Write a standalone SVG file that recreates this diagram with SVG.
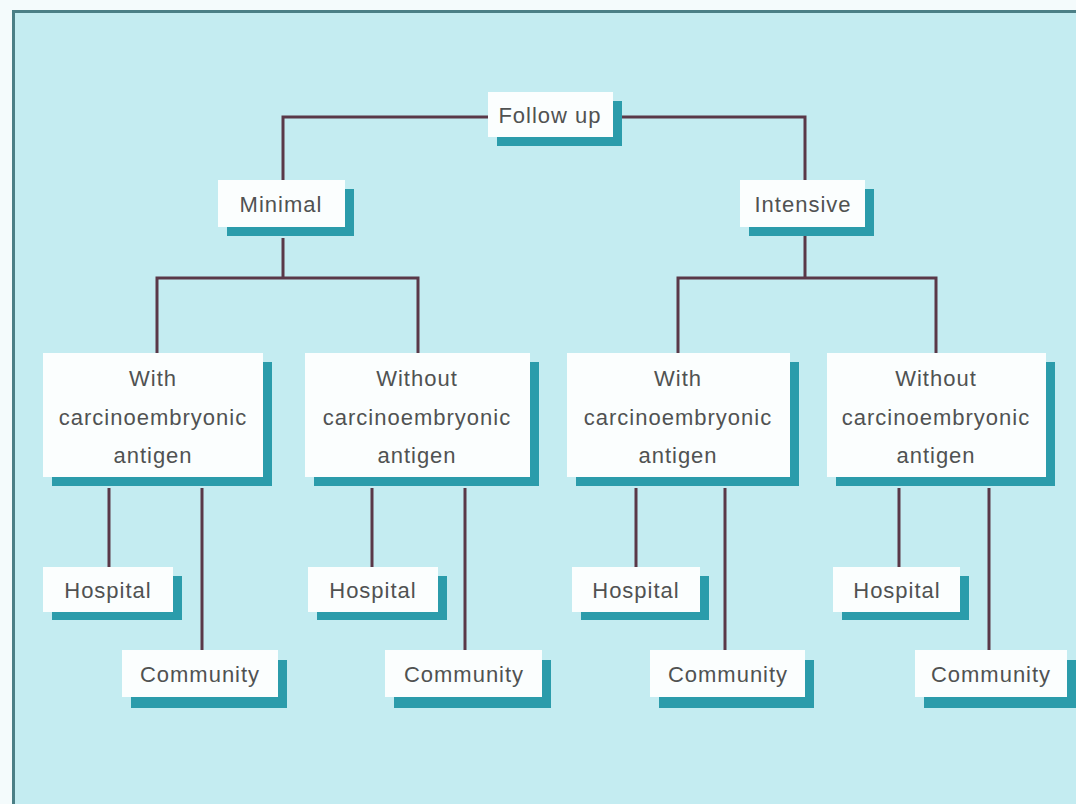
<svg xmlns="http://www.w3.org/2000/svg" width="1076" height="804" viewBox="0 0 1076 804">
<style>
.sh{fill:#2b9cab}
.bx{fill:#fbfefe}
.t{font-family:"Liberation Sans",Arial,sans-serif;font-size:22px;fill:#505252;text-anchor:middle;letter-spacing:1px}
.c{fill:none;stroke:#5a3848;stroke-width:3}
</style>
<rect x="0" y="0" width="1076" height="804" fill="#f4fbfc"/>
<rect x="12" y="10" width="1064" height="794" fill="#c4ecf1"/>
<line x1="12" y1="11.5" x2="1076" y2="11.5" stroke="#4b7f86" stroke-width="3"/>
<line x1="13.5" y1="10" x2="13.5" y2="804" stroke="#4b7f86" stroke-width="3"/>
<g id="connectors">
<path class="c" d="M488 117 H283 V180"/>
<path class="c" d="M613 117 H805 V180"/>
<path class="c" d="M283 238 V278 M157 353 V278 H418 V353"/>
<path class="c" d="M805 236 V278 M678 353 V278 H936 V353"/>
<path class="c" d="M109 488 V567 M202 488 V650"/>
<path class="c" d="M372 488 V567 M465 488 V650"/>
<path class="c" d="M636 488 V567 M725 488 V650"/>
<path class="c" d="M899 488 V567 M989 488 V650"/>
</g>
<g id="followup"><rect class="sh" x="497" y="101" width="125" height="45"/><rect class="bx" x="488" y="92" width="125" height="45"/><text class="t" x="550" y="123">Follow up</text></g>
<g id="minimal"><rect class="sh" x="227" y="189" width="127" height="47"/><rect class="bx" x="218" y="180" width="127" height="47"/><text class="t" x="281" y="212">Minimal</text></g>
<g id="intensive"><rect class="sh" x="749" y="189" width="125" height="47"/><rect class="bx" x="740" y="180" width="125" height="47"/><text class="t" x="803" y="212">Intensive</text></g>
<g id="with1"><rect class="sh" x="52" y="362" width="220" height="124"/><rect class="bx" x="43" y="353" width="220" height="124"/><text class="t" x="153"><tspan x="153" y="386">With</tspan><tspan x="153" y="425">carcinoembryonic</tspan><tspan x="153" y="463">antigen</tspan></text></g>
<g id="without1"><rect class="sh" x="314" y="362" width="225" height="124"/><rect class="bx" x="305" y="353" width="225" height="124"/><text class="t" x="417"><tspan x="417" y="386">Without</tspan><tspan x="417" y="425">carcinoembryonic</tspan><tspan x="417" y="463">antigen</tspan></text></g>
<g id="with2"><rect class="sh" x="576" y="362" width="223" height="124"/><rect class="bx" x="567" y="353" width="223" height="124"/><text class="t" x="678"><tspan x="678" y="386">With</tspan><tspan x="678" y="425">carcinoembryonic</tspan><tspan x="678" y="463">antigen</tspan></text></g>
<g id="without2"><rect class="sh" x="836" y="362" width="219" height="124"/><rect class="bx" x="827" y="353" width="219" height="124"/><text class="t" x="936"><tspan x="936" y="386">Without</tspan><tspan x="936" y="425">carcinoembryonic</tspan><tspan x="936" y="463">antigen</tspan></text></g>
<g id="hospital1"><rect class="sh" x="52" y="576" width="130" height="44"/><rect class="bx" x="43" y="567" width="130" height="45"/><text class="t" x="108" y="598">Hospital</text></g>
<g id="hospital2"><rect class="sh" x="317" y="576" width="130" height="44"/><rect class="bx" x="308" y="567" width="130" height="45"/><text class="t" x="373" y="598">Hospital</text></g>
<g id="hospital3"><rect class="sh" x="581" y="576" width="128" height="44"/><rect class="bx" x="572" y="567" width="128" height="45"/><text class="t" x="636" y="598">Hospital</text></g>
<g id="hospital4"><rect class="sh" x="842" y="576" width="127" height="44"/><rect class="bx" x="833" y="567" width="127" height="45"/><text class="t" x="897" y="598">Hospital</text></g>
<g id="community1"><rect class="sh" x="131" y="660" width="156" height="48"/><rect class="bx" x="122" y="650" width="156" height="47"/><text class="t" x="200" y="682">Community</text></g>
<g id="community2"><rect class="sh" x="394" y="660" width="157" height="48"/><rect class="bx" x="385" y="650" width="157" height="47"/><text class="t" x="464" y="682">Community</text></g>
<g id="community3"><rect class="sh" x="659" y="660" width="155" height="48"/><rect class="bx" x="650" y="650" width="155" height="47"/><text class="t" x="728" y="682">Community</text></g>
<g id="community4"><rect class="sh" x="924" y="660" width="152" height="48"/><rect class="bx" x="915" y="650" width="152" height="47"/><text class="t" x="991" y="682">Community</text></g>
</svg>
